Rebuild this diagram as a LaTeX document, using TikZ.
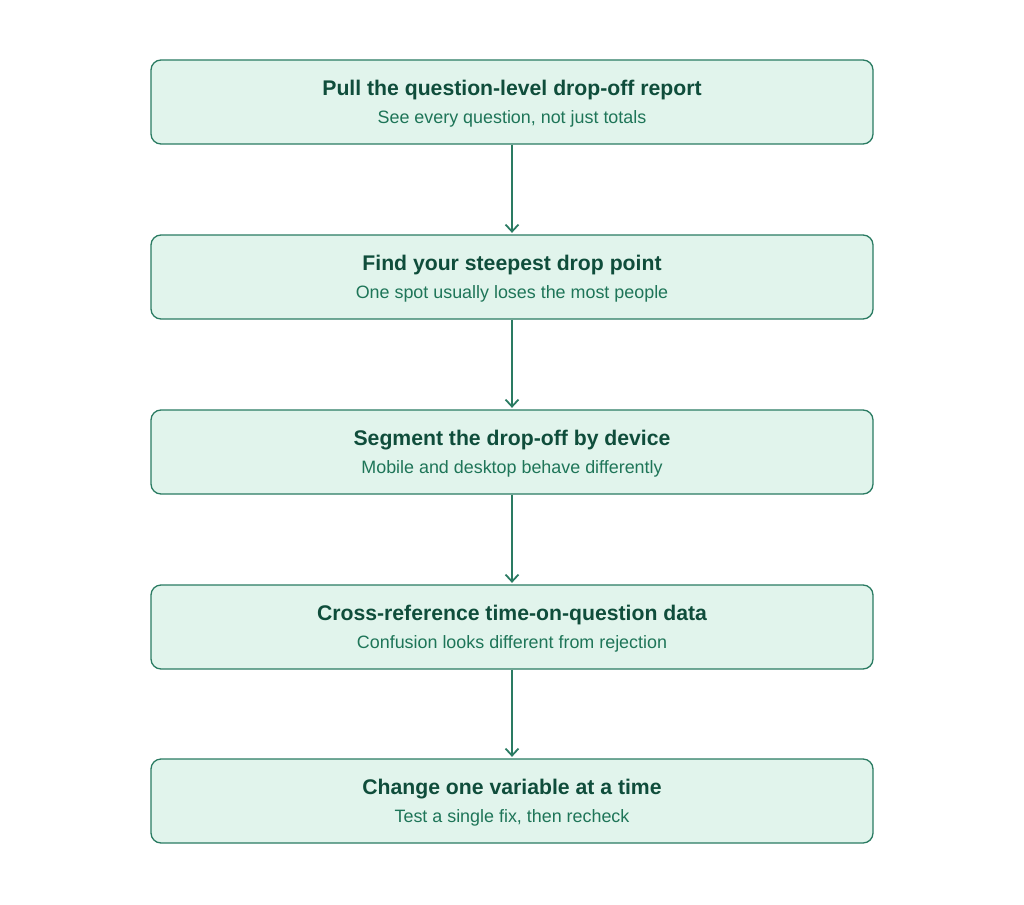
\documentclass[tikz,border=0pt]{standalone}
\usepackage{fontspec}
\setmainfont{Liberation Sans}
\usetikzlibrary{arrows.meta}
\definecolor{boxfill}{HTML}{E1F4EC}
\definecolor{boxline}{HTML}{2A7B62}
\definecolor{titlec}{HTML}{0F4D3B}
\definecolor{subc}{HTML}{1E7558}
\tikzset{
  stepbox/.style={draw=boxline, fill=boxfill, line width=1.3pt, rounded corners=10pt, minimum width=722pt, minimum height=84pt},
  ttl/.style={font=\fontsize{21.2}{24}\selectfont\bfseries, text=titlec},
  sub/.style={font=\fontsize{17.9}{21}\selectfont, text=subc},
  conn/.style={draw=boxline, line width=1.8pt, shorten >=1.5pt, -{Straight Barb[length=7pt,width=13pt,line width=1.8pt]}}
}
\begin{document}
\begin{tikzpicture}[x=1pt,y=-1pt]
\useasboundingbox (0,0) rectangle (1024,904);
\foreach \i/\y/\t/\s in {1/102/Pull the question-level drop-off report/{See every question, not just totals},
  2/277/Find your steepest drop point/One spot usually loses the most people,
  3/452/Segment the drop-off by device/Mobile and desktop behave differently,
  4/627/Cross-reference time-on-question data/Confusion looks different from rejection,
  5/801/Change one variable at a time/{Test a single fix, then recheck}} {
  \node[stepbox] (b\i) at (512,\y) {};
  \node[ttl] (t\i) at (512,\y-12) {\t};
  \node[sub] (s\i) at (512,\y+17) {\s};
}
\foreach \a/\b in {1/2,2/3,3/4,4/5} {
  \draw[conn] (b\a.south) -- (b\b.north);
}
\end{tikzpicture}
\end{document}
